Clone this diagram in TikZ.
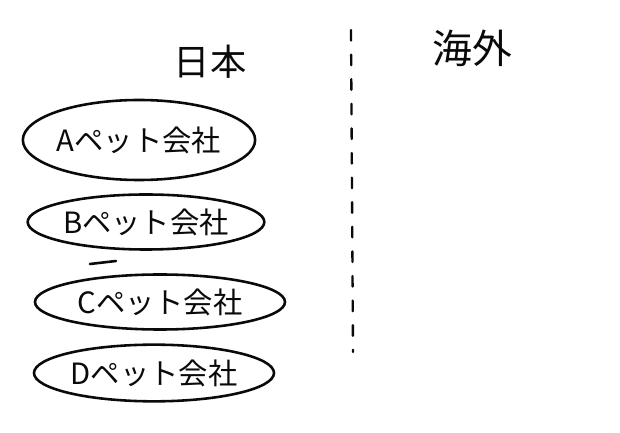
\documentclass[tikz,border=0pt]{standalone}
\usepackage{fontspec}
\usepackage{tikz}
\usetikzlibrary{shapes.geometric,positioning}
\newfontfamily\jpfont{Noto Sans CJK JP}
\definecolor{inkblack}{RGB}{10,10,10}

\begin{document}
\begin{tikzpicture}[
        x=0.03cm, y=-0.03cm,
        company/.style={draw=inkblack, line width=2.2pt, ellipse, inner sep=0pt, font=\jpfont\fontsize{25}{29}\selectfont, text=inkblack},
        heading/.style={font=\jpfont\fontsize{31}{35}\selectfont, text=inkblack},
        border/.style={draw=inkblack, line width=2pt, dash pattern=on 9pt off 12pt, line cap=round}
    ]
        % Canvas
        \useasboundingbox[fill=white] (0,0) rectangle (620,433);

        % Headings
        \node[heading] (japan) at (210,62) {日本};
        \node[heading, font=\jpfont\fontsize{34}{38}\selectfont] (abroad) at (472,48) {海外};

        % Divider
        \coordinate (divtop) at (351,30);
        \coordinate (divbot) at (353,352);
        \draw[border] (divtop) -- (divbot);

        % Companies
        \node[company, minimum width=6.8cm, minimum height=2.4cm] (compa) at (139,140) {Aペット会社};
        \node[company, minimum width=7.1cm, minimum height=1.65cm] (compb) at (146,222) {Bペット会社};
        \node[company, minimum width=7.5cm, minimum height=1.65cm] (compc) at (160,302) {Cペット会社};
        \node[company, minimum width=7.2cm, minimum height=1.7cm] (compd) at (154,373) {Dペット会社};

        % Stray stroke
        \coordinate (tickl) at (90,264);
        \coordinate (tickr) at (116,261);
        \draw[draw=inkblack, line width=2.2pt, line cap=round] (tickl) -- (tickr);
    \end{tikzpicture}
\end{document}
